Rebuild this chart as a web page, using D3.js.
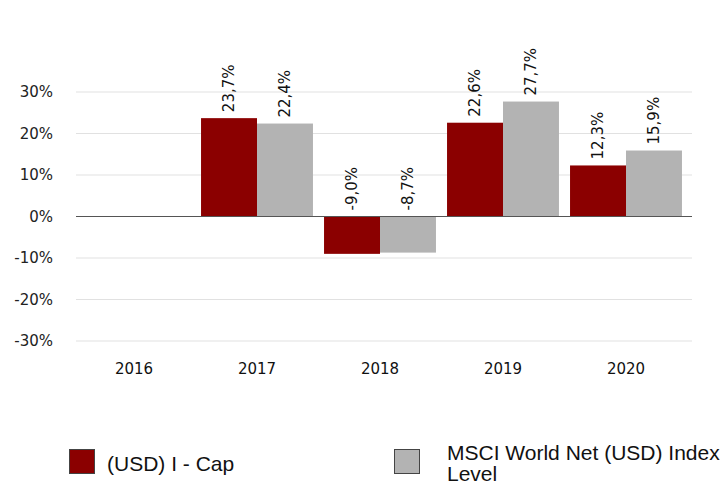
<!DOCTYPE html>
<html>
<head>
<meta charset="utf-8">
<script src="https://cdn.jsdelivr.net/npm/d3@7/dist/d3.min.js"></script>
<style>
  body { margin: 0; background: #fff; }
  svg text { font-family: "DejaVu Sans", sans-serif; }
  .legend text { font-family: "Liberation Sans", Arial, sans-serif; }
</style>
</head>
<body>
<div id="graphic"></div>
<script>
// data
const years = ['2016', '2017', '2018', '2019', '2020'];
const fundValues = [null, 23.7, -9.0, 22.6, 12.3];
const indexValues = [null, 22.4, -8.7, 27.7, 15.9];
const seriesNames = ['(USD) I - Cap', 'MSCI World Net (USD) Index Level'];
const yTicks = [-30, -20, -10, 0, 10, 20, 30];
const colours = ['#8b0000', '#b3b3b3'];

const width = 728, height = 485;
const svg = d3.select('#graphic').append('svg')
	.attr('width', width)
	.attr('height', height);

// scales
const x = d3.scaleBand()
	.domain(years)
	.range([72.5, 687.5])
	.paddingInner(0.09)
	.paddingOuter(0.045);

const xSeries = d3.scaleBand()
	.domain([0, 1])
	.range([0, x.bandwidth()]);

const y = d3.scaleLinear()
	.domain([-30, 30])
	.range([341, 92]);

// grid lines
svg.append('g')
	.attr('class', 'grid')
	.selectAll('line')
	.data(yTicks.filter(d => d !== 0))
	.join('line')
	.attr('x1', 76).attr('x2', 692)
	.attr('y1', d => y(d)).attr('y2', d => y(d))
	.attr('stroke', '#e1e1e1')
	.attr('stroke-width', 1);

// y tick labels
svg.append('g')
	.selectAll('text')
	.data(yTicks)
	.join('text')
	.attr('x', 53)
	.attr('y', d => y(d))
	.attr('dy', '0.35em')
	.attr('text-anchor', 'end')
	.attr('font-size', 15)
	.attr('fill', '#222')
	.text(d => d + '%');

// bars
const rows = years.map((yr, i) => ({ year: yr, vals: [fundValues[i], indexValues[i]] }));

const groups = svg.append('g').selectAll('g')
	.data(rows)
	.join('g')
	.attr('transform', d => `translate(${x(d.year)},0)`);

groups.selectAll('rect')
	.data(d => d.vals.map((v, k) => ({ v, k })).filter(e => e.v !== null))
	.join('rect')
	.attr('x', e => xSeries(e.k))
	.attr('width', xSeries.bandwidth())
	.attr('y', e => y(Math.max(0, e.v)))
	.attr('height', e => Math.abs(y(e.v) - y(0)))
	.attr('fill', e => colours[e.k]);

// value labels, rotated
groups.selectAll('text')
	.data(d => d.vals.map((v, k) => ({ v, k })).filter(e => e.v !== null))
	.join('text')
	.attr('transform', e => `translate(${xSeries(e.k) + xSeries.bandwidth() / 2},${y(Math.max(0, e.v)) - 6}) rotate(-90)`)
	.attr('dy', '0.35em')
	.attr('text-anchor', 'start')
	.attr('font-size', 15)
	.attr('fill', '#111')
	.text(e => d3.format('.1f')(e.v).replace('.', ',').replace('−', '-') + '%');

// zero line
svg.append('line')
	.attr('x1', 76).attr('x2', 692)
	.attr('y1', y(0)).attr('y2', y(0))
	.attr('stroke', '#555')
	.attr('stroke-width', 1);

// x labels
svg.append('g')
	.selectAll('text')
	.data(years)
	.join('text')
	.attr('x', d => x(d) + x.bandwidth() / 2)
	.attr('y', 369)
	.attr('dy', '0.35em')
	.attr('text-anchor', 'middle')
	.attr('font-size', 15)
	.attr('fill', '#111')
	.text(d => d);

// legend
const legend = svg.append('g').attr('class', 'legend');
const legendX = [69, 394];

legend.selectAll('rect')
	.data(seriesNames)
	.join('rect')
	.attr('x', (d, i) => legendX[i] + 0.5)
	.attr('y', 449.5)
	.attr('width', 25)
	.attr('height', 24)
	.attr('fill', (d, i) => colours[i])
	.attr('stroke', '#444')
	.attr('stroke-width', 1);

legend.append('text')
	.attr('x', 107).attr('y', 471)
	.attr('font-size', 21)
	.attr('fill', '#111')
	.text(seriesNames[0]);

const lt = legend.append('text')
	.attr('x', 447).attr('y', 460)
	.attr('font-size', 21)
	.attr('fill', '#111');
lt.append('tspan').attr('x', 447).text('MSCI World Net (USD) Index');
lt.append('tspan').attr('x', 447).attr('dy', 21).text('Level');
</script>
</body>
</html>
